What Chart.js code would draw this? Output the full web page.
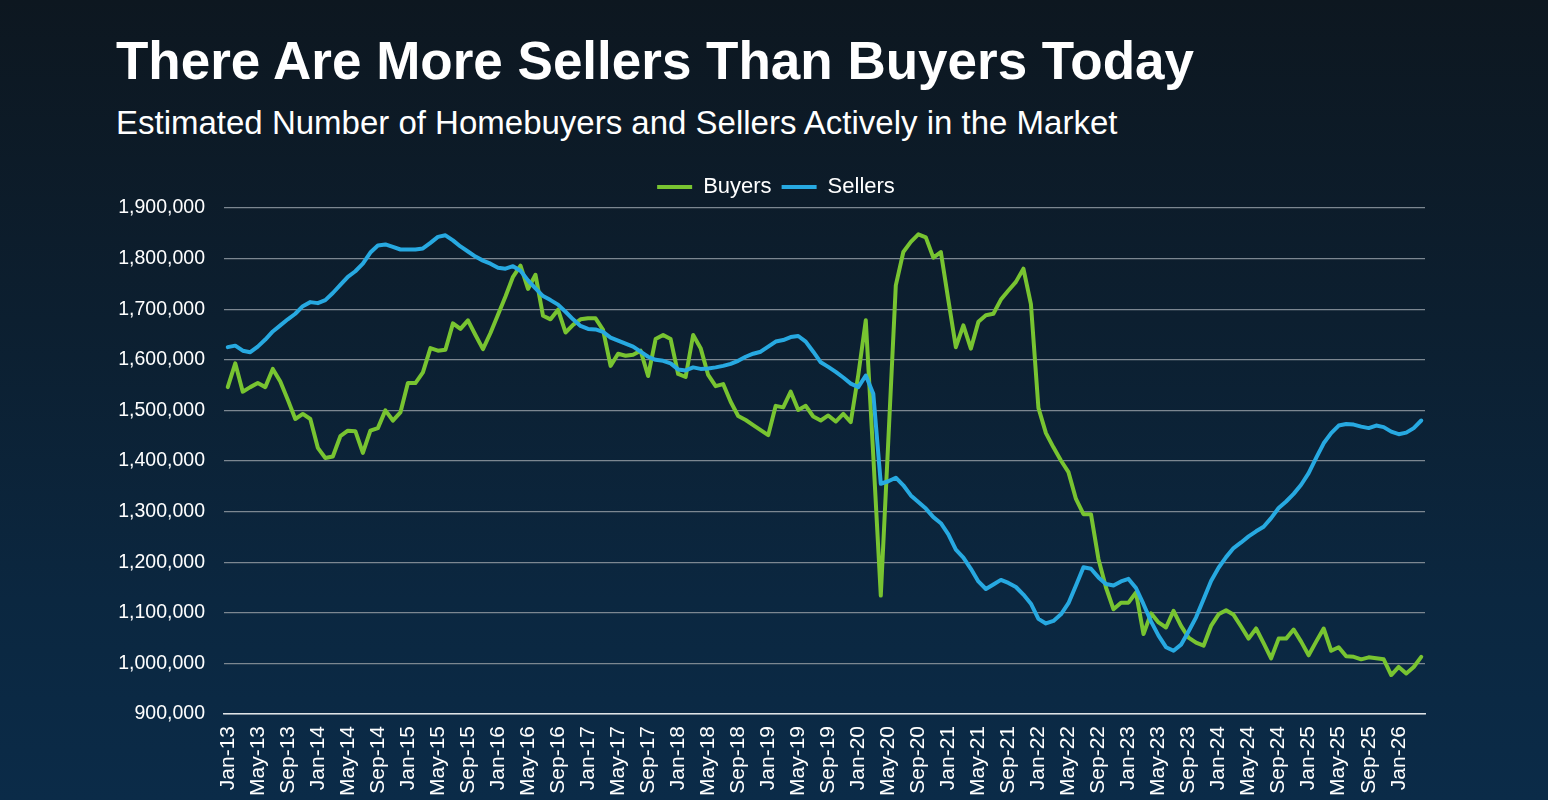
<!DOCTYPE html>
<html lang="en">
<head>
<meta charset="UTF-8">
<title>There Are More Sellers Than Buyers Today</title>
<script src="https://cdn.jsdelivr.net/npm/chart.js@4"></script>
<style>
  html, body { margin: 0; padding: 0; }
  body { width: 1548px; height: 800px; overflow: hidden; position: relative;
         font-family: 'Liberation Sans', Arial, sans-serif; color: #fff;
         background: linear-gradient(180deg, #0d1720 0%, #0c1f30 40%, #0b2740 75%, #0b2b48 100%); }
  .title { position: absolute; left: 116px; top: 34px; font-size: 53px; font-weight: bold; line-height: 53px; white-space: nowrap; }
  .subtitle { position: absolute; left: 116px; top: 105px; font-size: 33px; line-height: 36px; white-space: nowrap; }
  #wrap { position: absolute; left: 0; top: 0; width: 1548px; height: 800px; }
</style>
</head>
<body>
<div class="title">There Are More Sellers Than Buyers Today</div>
<div class="subtitle">Estimated Number of Homebuyers and Sellers Actively in the Market</div>
<div id="wrap"><canvas id="chart"></canvas></div>

<script>
  // monthly, Jan-13 .. Apr-26, in thousands
  const buyers = [
    1546, 1593, 1537, 1546, 1554, 1546, 1582, 1557, 1521, 1483, 1493, 1483,
    1426, 1406, 1409, 1449, 1460, 1459, 1416, 1460, 1465, 1500, 1480, 1496,
    1554, 1554, 1575, 1623, 1618, 1620, 1672, 1661, 1678, 1649, 1621, 1653,
    1689, 1725, 1764, 1786, 1740, 1768, 1687, 1680, 1699, 1654, 1669, 1680,
    1682, 1682, 1659, 1588, 1612, 1608, 1610, 1618, 1568, 1641, 1649, 1641,
    1572, 1566, 1649, 1623, 1570, 1548, 1552, 1517, 1489, 1481, 1471, 1461,
    1451, 1509, 1506, 1537, 1501, 1509, 1488, 1480, 1490, 1478, 1493, 1477,
    1570, 1678, 1410, 1134, 1440, 1747, 1813, 1833, 1848, 1842, 1802, 1813,
    1718, 1625, 1668, 1622, 1675, 1688, 1691, 1719, 1737, 1754, 1780, 1710,
    1505, 1455, 1427, 1401, 1378, 1325, 1295, 1295, 1206, 1150, 1107, 1120,
    1120, 1140, 1058, 1099, 1081, 1071, 1104, 1074, 1051, 1041, 1035, 1074,
    1097, 1105, 1096, 1073, 1049, 1069, 1040, 1010, 1049, 1049, 1067, 1043,
    1016, 1043, 1069, 1025, 1032, 1014, 1013, 1008, 1012, 1010, 1008, 977,
    993, 980, 993, 1013
  ];
  const sellers = [
    1625, 1628, 1618, 1615, 1626, 1640, 1656, 1668, 1680, 1691, 1706, 1714,
    1712, 1718, 1732, 1748, 1764, 1775, 1790, 1812, 1826, 1828, 1823, 1818,
    1818, 1818, 1820, 1831, 1843, 1846, 1836, 1824, 1814, 1804, 1796, 1790,
    1782, 1780, 1785, 1776, 1757, 1741, 1726, 1718, 1709, 1695, 1680, 1667,
    1661, 1660, 1655, 1644, 1638, 1632, 1626, 1616, 1606, 1600, 1598, 1593,
    1581, 1579, 1585, 1582, 1583, 1585, 1588, 1592, 1598, 1606, 1612, 1616,
    1626, 1636, 1639, 1645, 1647, 1636, 1616, 1595, 1586, 1576, 1565, 1553,
    1546, 1569, 1533, 1355, 1360, 1367, 1352, 1332, 1319, 1306, 1289, 1277,
    1255, 1225, 1209, 1187, 1162, 1147, 1156, 1165, 1159, 1151, 1136, 1118,
    1088, 1079, 1084, 1097, 1119, 1154, 1190, 1187, 1170, 1157, 1154, 1162,
    1167, 1149, 1117, 1083, 1055, 1032, 1025, 1037, 1063, 1091, 1127, 1163,
    1189, 1210, 1228, 1239, 1251, 1261, 1270, 1287, 1307, 1320, 1335, 1353,
    1376, 1406, 1435, 1455, 1470, 1473, 1472, 1468, 1465, 1470, 1467, 1458,
    1453, 1456, 1465, 1480
  ];
  const monthNames = ['Jan', 'Feb', 'Mar', 'Apr', 'May', 'Jun', 'Jul', 'Aug', 'Sep', 'Oct', 'Nov', 'Dec'];
  const firstYear = 13;
  const labelEvery = 4;
  const yMin = 900000, yMax = 1900000, yStep = 100000;

  const months = buyers.map((_, i) => monthNames[i % 12] + '-' + (firstYear + Math.floor(i / 12)));

  const GREEN = '#78c431';
  const BLUE = '#27a9e1';
  const FONT = "'Liberation Sans', Arial, sans-serif";

  // legend sits a bit right of the padded canvas centre, like the original
  const legendNudge = {
    id: 'legendNudge',
    afterLayout(chart) { chart.legend.left += 27; }
  };

  new Chart(document.getElementById('chart'), {
    type: 'line',
    data: {
      labels: months,
      datasets: [
        { label: 'Buyers', data: buyers.map(v => v * 1000), borderColor: GREEN, backgroundColor: GREEN,
          borderWidth: 4, pointRadius: 0, tension: 0, borderJoinStyle: 'round', borderCapStyle: 'round', order: 1 },
        { label: 'Sellers', data: sellers.map(v => v * 1000), borderColor: BLUE, backgroundColor: BLUE,
          borderWidth: 4, pointRadius: 0, tension: 0, borderJoinStyle: 'round', borderCapStyle: 'round', order: 0 }
      ]
    },
    plugins: [legendNudge],
    options: {
      responsive: true,
      maintainAspectRatio: false,
      animation: false,
      layout: { padding: { left: 100, right: 123, top: 166, bottom: 0 } },
      plugins: {
        legend: {
          position: 'top',
          labels: {
            color: '#ffffff',
            font: { family: FONT, size: 22 },
            usePointStyle: true,
            pointStyle: 'line',
            pointStyleWidth: 35,
            padding: 10,
            sort: (a, b) => a.datasetIndex - b.datasetIndex
          }
        },
        tooltip: { enabled: false }
      },
      scales: {
        x: {
          offset: true,
          grid: { display: false, drawTicks: false },
          border: { display: true, color: '#dfe4e8', width: 1.5 },
          ticks: {
            autoSkip: false, minRotation: 90, maxRotation: 90, padding: 12,
            color: '#ffffff', font: { family: FONT, size: 21 },
            callback: function (v, i) { return i % labelEvery === 0 ? this.getLabelForValue(v) : ''; }
          },
          afterFit: s => { s.height = 86; }
        },
        y: {
          min: yMin, max: yMax,
          border: { display: false },
          grid: { color: '#7c8791', lineWidth: 1.3, drawTicks: false },
          ticks: {
            stepSize: yStep, padding: 19, color: '#ffffff', font: { family: FONT, size: 19.5 },
            callback: v => v.toLocaleString('en-US')
          },
          afterFit: s => { s.width = 124; }
        }
      }
    }
  });
</script>
</body>
</html>
